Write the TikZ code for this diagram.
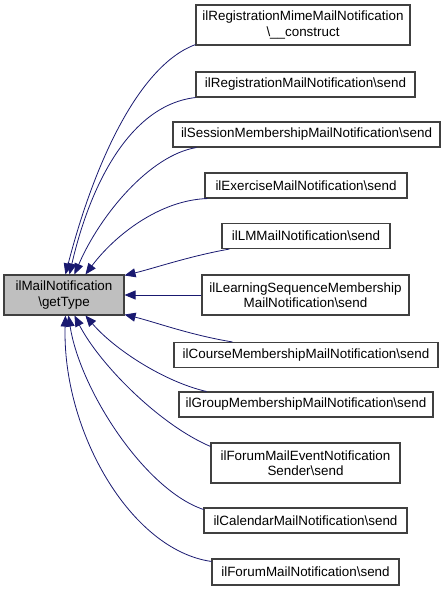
\documentclass[tikz,border=0pt]{standalone}
\usepackage{fontspec}
\setmainfont{Liberation Sans}
\usetikzlibrary{arrows.meta}
\definecolor{edgeblue}{RGB}{25,25,112}
\definecolor{boxgray}{RGB}{191,191,191}
\definecolor{boxborder}{RGB}{64,64,64}
\begin{document}
\begin{tikzpicture}[x=1pt,y=-1pt,
  box/.style={draw=boxborder,line width=1.1pt,fill=white,inner sep=0pt,align=center,
    font=\fontsize{13.4}{15.5}\selectfont},
  edge/.style={draw=edgeblue,line width=0.8pt,
    -{Triangle[length=11pt,width=9pt,fill=edgeblue]}}]
\useasboundingbox (0,0) rectangle (445,591);
\node[box,fill=boxgray,minimum width=120pt,minimum height=40pt] (main) at (64,295) {ilMailNotification\\\textbackslash getType};
\node[box,minimum width=214pt,minimum height=40pt] (mime) at (303,25) {ilRegistrationMimeMailNotification\\\textbackslash\_\_construct};
\node[box,minimum width=219pt,minimum height=25pt] (reg) at (305.5,84.5) {ilRegistrationMailNotification\textbackslash send};
\node[box,minimum width=267pt,minimum height=25pt] (sess) at (306.5,134.5) {ilSessionMembershipMailNotification\textbackslash send};
\node[box,minimum width=202pt,minimum height=25pt] (exer) at (306,185.5) {ilExerciseMailNotification\textbackslash send};
\node[box,minimum width=168pt,minimum height=25pt] (lm) at (306,236) {ilLMMailNotification\textbackslash send};
\node[box,minimum width=207pt,minimum height=40pt] (ls) at (305.5,295) {ilLearningSequenceMembership\\MailNotification\textbackslash send};
\node[box,minimum width=264pt,minimum height=25pt] (course) at (306,355) {ilCourseMembershipMailNotification\textbackslash send};
\node[box,minimum width=254pt,minimum height=25pt] (group) at (306,404.5) {ilGroupMembershipMailNotification\textbackslash send};
\node[box,minimum width=189pt,minimum height=40pt] (fe) at (305.5,463) {ilForumMailEventNotification\\Sender\textbackslash send};
\node[box,minimum width=203pt,minimum height=25pt] (cal) at (305.5,520.5) {ilCalendarMailNotification\textbackslash send};
\node[box,minimum width=187pt,minimum height=26pt] (forum) at (305.5,572) {ilForumMailNotification\textbackslash send};

\draw[edge] ([yshift=1pt]mime.south west) .. controls (140,65) and (95,160) .. ([xshift=62pt]main.north west);
\draw[edge] (reg.south west) .. controls (130,105) and (90,185) .. ([xshift=66pt]main.north west);
\draw[edge] ([xshift=24pt]sess.south west) .. controls (150,155) and (100,215) .. ([xshift=71pt]main.north west);
\draw[edge] ([xshift=3pt]exer.south west) .. controls (160,200) and (115,235) .. ([xshift=82pt]main.north west);
\draw[edge] ([xshift=8pt]lm.south west) .. controls (190,256) and (155,268) .. ([yshift=-1pt]main.north east);
\draw[edge] (ls.west) -- (main.east);
\draw[edge] ([xshift=59pt]course.north west) .. controls (190,335) and (155,322) .. ([yshift=1pt]main.south east);
\draw[edge] ([xshift=28pt]group.north west) .. controls (165,382) and (115,350) .. ([xshift=82pt]main.south west);
\draw[edge] ([yshift=-4pt]fe.north west) .. controls (160,425) and (100,365) .. ([xshift=71pt]main.south west);
\draw[edge] ([yshift=-2pt]cal.north west) .. controls (145,490) and (80,390) .. ([xshift=65pt]main.south west);
\draw[edge] ([yshift=-3pt]forum.north west) .. controls (130,550) and (62,430) .. ([xshift=62pt]main.south west);
\end{tikzpicture}
\end{document}
